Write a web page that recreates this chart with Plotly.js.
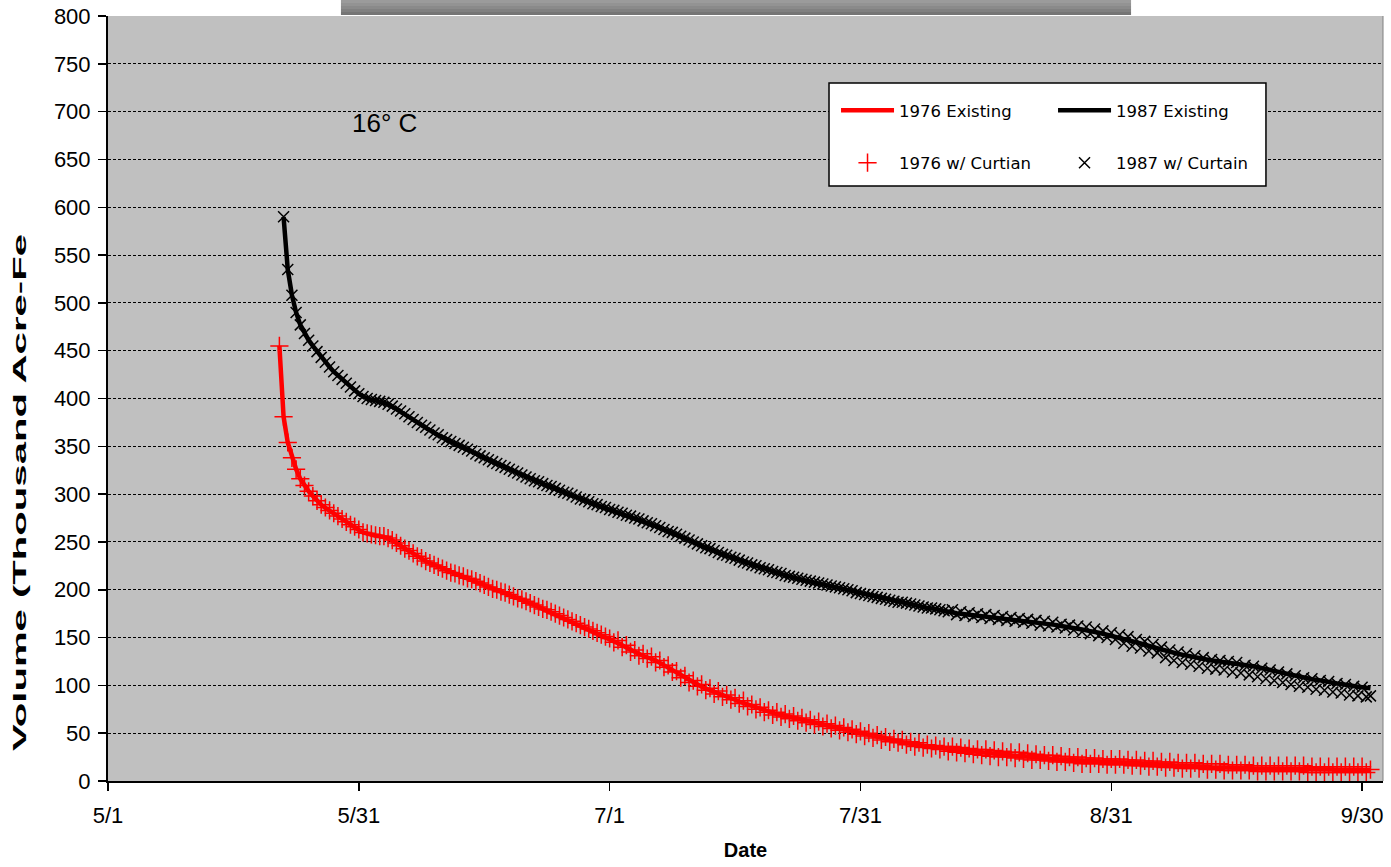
<!DOCTYPE html>
<html>
<head>
<meta charset="utf-8">
<script src="https://cdn.plot.ly/plotly-3.0.1.min.js"></script>
<style>
html, body { margin: 0; padding: 0; background: #ffffff; }
#chart { width: 1391px; height: 867px; }
</style>
</head>
<body>
<div id="chart"></div>
<script>
// ---- axis ticks ----
const tickDays = [0, 30, 60, 90, 120, 150];
const tickLabels = ['5/1', '5/31', '7/1', '7/31', '8/31', '9/30'];

// ---- sampling (days after 5/1, twice daily) ----
const start1976 = 20.5;
const start1987 = 21.0;
const stepDays = 0.5;

// ---- 1976 Existing (thousand acre-feet) ----
const vol1976Existing = [
  455, 381, 354, 338, 326, 316, 309, 303, 298, 293,
  289, 285.5, 282.5, 279.5, 276.5, 273.5, 270.5, 268, 265.5, 262.5,
  260, 258.5, 257.5, 256.5, 256, 255.5, 254, 251.5, 248.5, 245.5,
  243, 240.5, 238, 235, 232.5, 230, 228, 226, 224, 222,
  220, 218, 216.5, 215, 213.5, 212, 210.5, 209, 207, 205,
  203, 201, 199.5, 198, 196.5, 194.5, 193, 191, 189.5, 187.5,
  186, 184, 182, 180, 178.5, 176.5, 174.5, 172.5, 170.5, 168.5,
  166.5, 164.5, 162.5, 160.5, 158.5, 156.5, 154.5, 153, 151, 149,
  146.5, 144.5, 142, 139.5, 137, 135, 133, 131, 129.5, 128,
  126, 123.5, 121, 118.5, 115.5, 112.5, 110, 107.5, 105, 102.5,
  100.5, 98.5, 96.5, 95, 93, 91.5, 89.5, 88, 86.5, 85,
  83, 81.5, 79.5, 78, 76.5, 75, 73.5, 72, 71, 70,
  69, 68, 67, 65.5, 64.5, 63.5, 62.5, 61.5, 60.5, 59.5,
  58.5, 57.5, 56.5, 55.5, 54.5, 53.5, 52.5, 51.5, 50.5, 49.5,
  48.5, 47.5, 46.5, 45.5, 44.5, 43.5, 43, 42, 41.5, 40.5,
  39.5, 39, 38, 37.5, 37, 36, 35.5, 35, 34.5, 34,
  33.5, 33, 32.5, 32, 31.5, 31, 30.5, 30, 29.5, 29.5,
  29, 28.5, 28, 28, 27.5, 27, 26.5, 26.5, 26, 25.5,
  25, 25, 24.5, 24, 23.5, 23.5, 23, 22.5, 22.5, 22,
  21.5, 21.5, 21, 21, 21, 20.5, 20.5, 20, 20, 20,
  19.5, 19.5, 19.5, 19, 19, 18.5, 18.5, 18, 18, 17.5,
  17.5, 17, 17, 16.5, 16.5, 16, 16, 16, 15.5, 15.5,
  15.5, 15, 15, 14.5, 14.5, 14.5, 14, 14, 14, 13.5,
  13.5, 13.5, 13.5, 13, 13, 13, 13, 13, 13, 12.5,
  12.5, 12.5, 12.5, 12.5, 12.5, 12.5, 12, 12, 12, 12,
  12, 12, 12, 11.5, 11.5, 11.5, 11.5, 11.5, 11.5, 11.5,
  11.5, 11.5
];

// ---- 1976 w/ Curtian ----
const vol1976Curtain = [
  455, 381, 354, 338, 326, 316, 309, 303, 298, 293,
  289, 286, 283, 280, 277, 274, 271, 268, 266, 263,
  260, 259, 258, 257, 256, 256, 254, 252, 249, 246,
  243, 241, 238, 235, 233, 230, 228, 226, 224, 222,
  220, 218, 217, 215, 214, 212, 211, 209, 207, 205,
  203, 201, 200, 198, 197, 195, 193, 191, 190, 188,
  186, 184, 182, 180, 179, 177, 175, 173, 171, 169,
  167, 165, 163, 161, 159, 157, 155, 153, 151, 149,
  145, 147, 140, 142, 135, 137, 131, 133, 128, 130,
  124, 126, 119, 121, 114, 115, 108, 110, 103, 105,
  99, 101, 95, 97, 91, 94, 88, 90, 85, 87,
  81, 84, 78, 80, 75, 77, 72, 74, 69, 72,
  67, 70, 65, 68, 63, 66, 61, 64, 59, 62,
  57, 60, 55, 58, 53, 56, 51, 54, 49, 52,
  47, 50, 45, 48, 43, 46, 41, 44, 40, 43,
  38, 41, 36, 40, 35, 38, 34, 37, 33, 36,
  31, 36, 30, 35, 29, 34, 28, 33, 27, 33,
  26, 32, 25, 31, 25, 30, 24, 30, 23, 29,
  22, 28, 22, 27, 21, 27, 20, 26, 20, 25,
  19, 25, 18, 24, 18, 24, 18, 23, 17, 23,
  17, 23, 17, 22, 16, 22, 16, 21, 15, 21,
  15, 20, 14, 20, 14, 19, 13, 19, 13, 19,
  13, 18, 12, 18, 12, 18, 11, 17, 11, 17,
  11, 17, 11, 16, 10, 16, 10, 16, 10, 16,
  10, 16, 10, 16, 10, 16, 9, 15, 9, 15,
  9, 15, 9, 15, 9, 15, 9, 15, 9, 15,
  9, 12
];

// ---- 1987 Existing ----
const vol1987Existing = [
  590, 535, 508, 490, 477, 468, 461, 455, 449, 443,
  438, 433, 428, 424, 420, 416, 412, 408, 405, 402,
  400, 398.5, 398, 397, 396, 394, 391.5, 389, 386.5, 384,
  381, 378, 375, 372, 369.5, 367, 364, 361.5, 359, 357,
  355, 353, 350.5, 348.5, 346.5, 344.5, 342, 340, 338, 336,
  334, 332, 330, 328, 326, 324, 322, 320, 318, 316,
  314, 312.5, 311, 309, 307.5, 305.5, 304, 302, 300.5, 298.5,
  297, 295, 293.5, 291.5, 290, 288.5, 287, 285.5, 284, 282.5,
  281, 279.5, 278, 276.5, 275, 273.5, 272, 270, 268.5, 266.5,
  265, 263, 261, 259.5, 257.5, 255.5, 253.5, 251.5, 249.5, 248,
  246, 244, 242.5, 240.5, 239, 237, 235.5, 234, 232.5, 231,
  229, 227.5, 226, 224.5, 223, 221.5, 220.5, 219, 217.5, 216.5,
  215, 214, 212.5, 211.5, 210.5, 209.5, 208.5, 207.5, 206.5, 205.5,
  204.5, 203.5, 202.5, 201.5, 200.5, 199.5, 198.5, 197, 196, 195,
  194, 193, 192, 191, 190, 189, 188, 187, 186.5, 185.5,
  184.5, 183.5, 183, 182, 181, 180.5, 179.5, 178.5, 178, 177,
  176.5, 175.5, 175, 174.5, 174, 173.5, 173, 172.5, 172, 171.5,
  171, 170.5, 170, 169.5, 169, 168.5, 168, 167.5, 167, 166.5,
  166, 165, 164.5, 164, 163.5, 163, 162, 161.5, 160.5, 160,
  159, 158.5, 157.5, 157, 156, 155, 154, 153, 152, 151,
  150, 149, 147.5, 146.5, 145, 144, 142.5, 141, 140, 139,
  137.5, 136.5, 135, 134, 133, 132, 131, 130, 129, 128,
  127.5, 126.5, 126, 125.5, 125, 124.5, 124, 123, 122.5, 122,
  121, 120.5, 120, 119, 118, 117, 116, 115, 113.5, 112.5,
  111.5, 110.5, 110, 109, 108, 107.5, 106.5, 106, 105, 104.5,
  104, 103, 102, 101.5, 100.5, 100, 99, 98.5, 98, 97.5,
  97
];

// ---- 1987 w/ Curtain ----
const vol1987Curtain = [
  590, 535, 508, 490, 477, 468, 461, 455, 449, 443,
  438, 433, 428, 424, 420, 416, 412, 408, 405, 402,
  400, 399, 398, 397, 396, 394, 392, 389, 387, 384,
  381, 378, 375, 372, 370, 367, 364, 362, 359, 357,
  355, 353, 351, 349, 347, 345, 342, 340, 338, 336,
  334, 332, 330, 328, 326, 324, 322, 320, 318, 316,
  314, 313, 311, 309, 308, 306, 304, 302, 301, 299,
  297, 295, 294, 292, 290, 289, 287, 286, 284, 283,
  281, 280, 278, 277, 275, 274, 272, 270, 269, 267,
  265, 263, 261, 260, 258, 256, 254, 252, 250, 248,
  246, 244, 243, 241, 239, 237, 236, 234, 233, 231,
  229, 228, 226, 225, 223, 222, 221, 219, 218, 217,
  215, 214, 213, 212, 211, 210, 209, 208, 207, 206,
  205, 204, 203, 202, 201, 200, 199, 197, 196, 195,
  194, 193, 192, 191, 190, 189, 188, 187, 187, 186,
  185, 184, 183, 182, 181, 181, 180, 179, 178, 177,
  179, 174, 177, 173, 176, 172, 175, 171, 174, 170,
  173, 169, 172, 168, 171, 167, 170, 166, 169, 165,
  168, 163, 167, 162, 166, 161, 164, 160, 163, 158,
  162, 156, 161, 154, 159, 152, 157, 150, 155, 148,
  153, 144, 151, 141, 148, 139, 146, 136, 143, 134,
  140, 129, 137, 126, 135, 124, 133, 122, 131, 120,
  129, 118, 127, 117, 126, 116, 125, 114, 124, 113,
  121, 111, 120, 109, 118, 107, 116, 105, 114, 103,
  112, 101, 110, 99, 108, 98, 107, 96, 105, 95,
  104, 93, 102, 92, 101, 90, 99, 89, 98, 88,
  89
];

const sampleDays = (start, values) => values.map((_, i) => start + i * stepDays);

const FONT = 'Liberation Sans, Arial, Helvetica, sans-serif';
const LEGEND_FONT = 'DejaVu Sans, Verdana, sans-serif';

const traces = [
  {
    name: '1976 Existing', type: 'scatter', mode: 'lines',
    x: sampleDays(start1976, vol1976Existing), y: vol1976Existing,
    line: { color: '#ff0000', width: 4.5 },
    legend: 'legend', legendgroup: 'g1'
  },
  {
    name: '1987 Existing', type: 'scatter', mode: 'lines',
    x: sampleDays(start1987, vol1987Existing), y: vol1987Existing,
    line: { color: '#000000', width: 4.5 },
    legend: 'legend2', legendgroup: 'g2'
  },
  {
    name: '1976 w/ Curtian', type: 'scatter', mode: 'markers',
    x: sampleDays(start1976, vol1976Curtain), y: vol1976Curtain,
    marker: { symbol: 'cross-thin', size: 13, color: '#ff0000', line: { color: '#ff0000', width: 1.5 } },
    legend: 'legend', legendgroup: 'g3'
  },
  {
    name: '1987 w/ Curtain', type: 'scatter', mode: 'markers',
    x: sampleDays(start1987, vol1987Curtain), y: vol1987Curtain,
    marker: { symbol: 'x-thin', size: 11, color: '#000000', line: { color: '#000000', width: 1.5 } },
    legend: 'legend2', legendgroup: 'g4'
  }
];

// top gradient bar bands
const barColors = ['#9b9b9b', '#939393', '#8a8a8a', '#808080', '#757575'];
const barShapes = barColors.map((c, i) => ({
  type: 'rect', xref: 'paper', yref: 'paper',
  x0: 0.1827, x1: 0.8024,
  y0: 1.02092 - (i + 1) * 0.003922, y1: 1.02092 - i * 0.003922,
  fillcolor: c, line: { width: 0 }, layer: 'above'
}));

function makeLegend(xPos) {
  return {
    orientation: 'v', yanchor: 'top', xanchor: 'left', x: xPos, y: 0.8993,
    bgcolor: 'rgba(0,0,0,0)', borderwidth: 0,
    traceorder: 'grouped', tracegroupgap: 28, itemwidth: 53,
    font: { family: LEGEND_FONT, size: 16.5, color: '#000000' }
  };
}

const layout = {
  width: 1391, height: 867,
  margin: { l: 108, r: 8, t: 16, b: 86, autoexpand: false },
  paper_bgcolor: '#ffffff',
  plot_bgcolor: '#c0c0c0',
  font: { family: FONT, color: '#000000' },
  showlegend: true,
  legend: makeLegend(0.5710),
  legend2: makeLegend(0.7412),
  xaxis: {
    range: [0, 152.5], tickmode: 'array', tickvals: tickDays, ticktext: tickLabels,
    ticks: 'outside', ticklen: 8, tickwidth: 1.5, tickcolor: '#000000',
    showline: true, linecolor: '#000000', linewidth: 2,
    showgrid: false, zeroline: false, automargin: false,
    tickfont: { family: FONT, size: 22, color: '#000000' },
    ticklabelstandoff: 6,
    title: { text: 'Date', font: { family: FONT, size: 20, color: '#000000', weight: 'bold' }, standoff: 16 }
  },
  yaxis: {
    range: [0, 800], tick0: 0, dtick: 50,
    ticks: 'outside', ticklen: 8, tickwidth: 1.5, tickcolor: '#000000',
    showline: true, linecolor: '#000000', linewidth: 2,
    showgrid: true, gridcolor: '#000000', gridwidth: 1, griddash: '3px,2px',
    zeroline: false, automargin: false,
    tickfont: { family: FONT, size: 22, color: '#000000' },
    ticklabelstandoff: 3
  },
  shapes: [
    { type: 'line', xref: 'paper', yref: 'paper', x0: 1, x1: 1, y0: 0, y1: 1,
      line: { color: '#808080', width: 1 }, layer: 'above' },
    { type: 'rect', xref: 'paper', yref: 'paper', x0: 0.5655, x1: 0.9082, y0: 0.7778, y1: 0.9124,
      fillcolor: '#ffffff', line: { color: '#000000', width: 1.5 }, layer: 'above' }
  ].concat(barShapes),
  annotations: [
    { text: '16° C', xref: 'x', yref: 'y', x: 33.1, y: 688, showarrow: false,
      xanchor: 'center', yanchor: 'middle',
      font: { family: FONT, size: 26, color: '#000000' } },
    { text: 'Volume (Thousand Acre-Fe', xref: 'paper', yref: 'paper', x: -0.069, y: 0.3765,
      textangle: -90, showarrow: false, xanchor: 'center', yanchor: 'middle',
      font: { family: FONT, size: 19, color: '#000000', weight: 'bold' } }
  ]
};

function stretchYTitle(gd) {
  // the reference's y-axis title is drawn stretched along its length
  gd.querySelectorAll('.annotation-text').forEach(t => {
    if (t.textContent.indexOf('Volume') === 0) {
      t.setAttribute('textLength', '517');
      t.setAttribute('lengthAdjust', 'spacingAndGlyphs');
    }
  });
}

const gd = document.getElementById('chart');
Plotly.newPlot(gd, traces, layout, { displayModeBar: false, staticPlot: true }).then(() => {
  stretchYTitle(gd);
  gd.on('plotly_afterplot', () => stretchYTitle(gd));
});
</script>
</body>
</html>
